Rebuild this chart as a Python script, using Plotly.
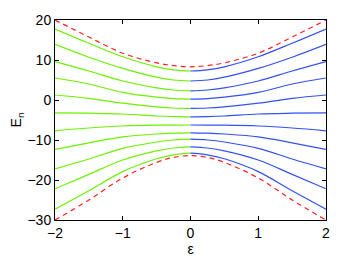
import plotly.graph_objects as go

# |epsilon| grid (picture is mirror-symmetric about epsilon = 0)
eps_abs = [0, 0.25, 0.5, 1, 1.5, 2]

# energy levels read at |epsilon| = 0, 0.25, 0.5, 1, 1.5, 2
E1 = [7.25, 7.55, 8.3, 10.8, 14.2, 17.75]
E2 = [4.75, 5.0, 5.7, 7.9, 10.7, 13.9]
E3 = [2.3, 2.5, 3.05, 4.75, 7.25, 9.6]
E4 = [0.2, 0.35, 0.7, 1.9, 4.0, 5.5]
E5 = [-2.1, -2.0, -1.7, -0.8, 0.4, 1.25]
E6 = [-4.2, -4.15, -4.0, -3.5, -3.3, -3.2]
E7 = [-6.25, -6.27, -6.3, -6.5, -7.0, -7.7]
E8 = [-8.2, -8.3, -8.5, -9.2, -10.7, -12.35]
E9 = [-9.8, -10.0, -10.5, -12.1, -14.75, -17.2]
E10 = [-11.7, -12.0, -12.7, -15.0, -18.6, -22.2]
E11 = [-13.3, -13.7, -14.7, -17.9, -22.7, -27.3]
levels = [E1, E2, E3, E4, E5, E6, E7, E8, E9, E10, E11]

# dashed envelope
env_top = [8.3, 8.6, 9.3, 11.7, 15.75, 20.0]
env_bot = [-13.9, -14.35, -15.6, -19.5, -25.0, -30.0]

x_left = [-v for v in eps_abs]
x_right = eps_abs

GREEN = "#6ef000"
BLUE = "#3350f0"
RED = "#ff2020"
FONT = "Liberation Sans, Arial"

fig = go.Figure()
for E in levels:
    fig.add_trace(go.Scatter(x=x_left, y=E, mode="lines",
                             line=dict(color=GREEN, width=1.2, shape="spline"),
                             showlegend=False))
    fig.add_trace(go.Scatter(x=x_right, y=E, mode="lines",
                             line=dict(color=BLUE, width=1.2, shape="spline"),
                             showlegend=False))
for env in (env_top, env_bot):
    fig.add_trace(go.Scatter(x=x_left[::-1] + x_right[1:], y=env[::-1] + env[1:], mode="lines",
                             line=dict(color=RED, width=1.2, dash="5px,4px", shape="spline"),
                             showlegend=False))

axis_common = dict(showline=True, linecolor="black", linewidth=1, mirror="ticks",
                   ticks="inside", ticklen=4, tickcolor="black", showgrid=False,
                   zeroline=False, automargin=False,
                   tickfont=dict(family=FONT, size=14, color="black"))

fig.update_layout(
    width=360, height=259,
    margin=dict(l=47, r=42, t=12, b=47),
    paper_bgcolor="white", plot_bgcolor="white",
    xaxis=dict(range=[-2, 2], tickvals=[-2, -1, 0, 1, 2],
               ticktext=["\u22122", "\u22121", "0", "1", "2"],
               title=dict(text="\u03b5", font=dict(family=FONT, size=14, color="black"), standoff=0),
               **axis_common),
    yaxis=dict(range=[-30, 20], tickvals=[-30, -20, -10, 0, 10, 20],
               ticktext=["\u221230", "\u221220", "\u221210", "0", "10", "20"],
               title=dict(text="E<sub>n</sub>", font=dict(family=FONT, size=14, color="black"), standoff=10),
               **axis_common),
)
fig.write_html("out.html")
